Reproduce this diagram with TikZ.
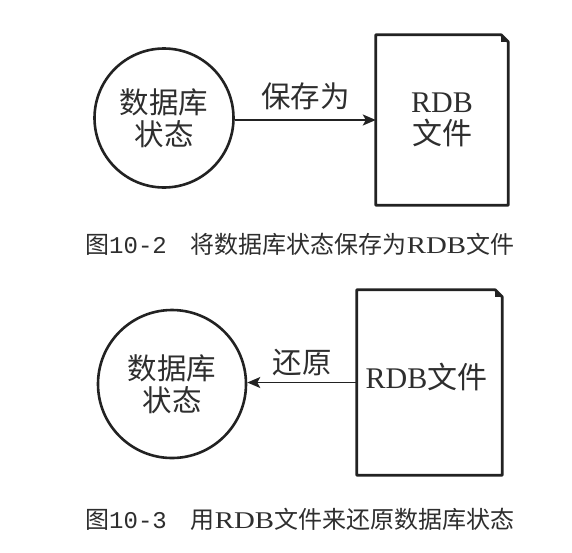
\documentclass[tikz,border=0pt]{standalone}
\usepackage{fontspec}
\setmainfont{Liberation Serif}
\newfontfamily\cjk{Noto Sans CJK SC}
\newfontfamily\monof{Liberation Mono}
\usetikzlibrary{arrows.meta}
\definecolor{linec}{HTML}{222222}
\definecolor{txt}{HTML}{2E2E2E}
\begin{document}
\begin{tikzpicture}[x=1pt,y=-1pt,
  state/.style={circle, draw=linec, line width=2.6pt, inner sep=0pt, text=txt, align=center, font=\cjk\fontsize{29.5}{32}\selectfont},
  docbox/.style={rectangle, draw=none, inner sep=0pt, text=txt, align=center, font=\fontsize{30}{32}\selectfont},
  docline/.style={draw=linec, line width=2.8pt, line join=round},
  flow/.style={draw=linec, line width=1.5pt, -{Stealth[length=13pt,width=11pt,inset=3pt]}},
  lbl/.style={text=txt, inner sep=0pt, font=\cjk\fontsize{29.5}{32}\selectfont},
  caption/.style={anchor=west, text=txt, inner sep=0pt, font=\cjk\fontsize{24}{26}\selectfont}]
\useasboundingbox (0,0) rectangle (572,552);
\fill[white] (0,0) rectangle (572,552);

% ---- Figure 10-2 ----
\node[state, minimum size=139pt] (c1) at (164,118) {数据库\\状态};
\node[docbox, minimum width=132pt, minimum height=170pt] (d1) at (442,120) {RDB\\{\cjk 文件}};
\draw[docline] (d1.north west) -- ([xshift=-7pt]d1.north east) -- ([yshift=-7pt]d1.north east) -- (d1.south east) -- (d1.south west) -- cycle;
\fill[linec] ([xshift=-7pt]d1.north east) -- ([xshift=-7pt,yshift=-7pt]d1.north east) -- ([yshift=-7pt]d1.north east) -- cycle;
\draw[flow] (c1.east |- d1.west) -- (d1.west) node[lbl, midway, above=9pt] (l1) {保存为};
\node[caption] (cap1) at (85,244) {图{\monof 10-2}\hspace{1em}将数据库状态保存为{\rmfamily\scalebox{1.2}[1]{RDB}}文件};

% ---- Figure 10-3 ----
\node[state, minimum size=148pt] (c2) at (172,384) {数据库\\状态};
\node[docbox, minimum width=145pt, minimum height=185pt] (d2) at (429.5,382.5) {};
\node[docbox] (t2) at (426.5,377) {RDB{\cjk 文件}};
\draw[docline] (d2.north west) -- ([xshift=-7pt]d2.north east) -- ([yshift=-7pt]d2.north east) -- (d2.south east) -- (d2.south west) -- cycle;
\fill[linec] ([xshift=-7pt]d2.north east) -- ([xshift=-7pt,yshift=-7pt]d2.north east) -- ([yshift=-7pt]d2.north east) -- cycle;
\draw[flow] (d2.west) -- (d2.west -| c2.east) node[lbl, midway, above=6pt] (l2) {还原};
\node[caption] (cap2) at (85,519) {图{\monof 10-3}\hspace{1em}用{\rmfamily\scalebox{1.2}[1]{RDB}}文件来还原数据库状态};
\end{tikzpicture}
\end{document}
